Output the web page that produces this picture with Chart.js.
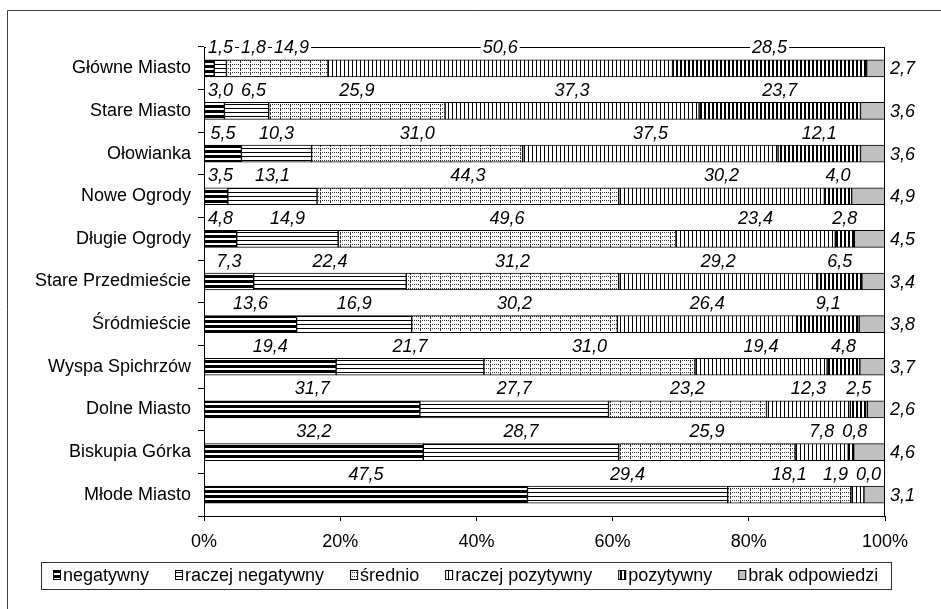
<!DOCTYPE html>
<html>
<head>
<meta charset="utf-8">
<script src="https://cdn.jsdelivr.net/npm/chart.js@4"></script>
<style>
  html, body { margin: 0; padding: 0; background: #fff; }
  canvas { display: block; }
</style>
</head>
<body>
<canvas id="chart" width="941" height="609"></canvas>
<script>
var districts = ['Główne Miasto', 'Stare Miasto', 'Ołowianka', 'Nowe Ogrody', 'Długie Ogrody',
    'Stare Przedmieście', 'Śródmieście', 'Wyspa Spichrzów', 'Dolne Miasto', 'Biskupia Górka', 'Młode Miasto'];
var seriesNames = ['negatywny', 'raczej negatywny', 'średnio', 'raczej pozytywny', 'pozytywny', 'brak odpowiedzi'];

var negatywny       = [1.5, 3.0, 5.5, 3.5, 4.8, 7.3, 13.6, 19.4, 31.7, 32.2, 47.5];
var raczejNegatywny = [1.8, 6.5, 10.3, 13.1, 14.9, 22.4, 16.9, 21.7, 27.7, 28.7, 29.4];
var srednio         = [14.9, 25.9, 31.0, 44.3, 49.6, 31.2, 30.2, 31.0, 23.2, 25.9, 18.1];
var raczejPozytywny = [50.6, 37.3, 37.5, 30.2, 23.4, 29.2, 26.4, 19.4, 12.3, 7.8, 1.9];
var pozytywny       = [28.5, 23.7, 12.1, 4.0, 2.8, 6.5, 9.1, 4.8, 2.5, 0.8, 0.0];
var brakOdpowiedzi  = [2.7, 3.6, 3.6, 4.9, 4.5, 3.4, 3.8, 3.7, 2.6, 4.6, 3.1];

var tickLabels = ['0%', '20%', '40%', '60%', '80%', '100%'];

Chart.defaults.font.family = '"Liberation Sans", Arial, sans-serif';
Chart.defaults.color = '#000';

var canvas = document.getElementById('chart');
var mainCtx = canvas.getContext('2d');

// small tiles for the Excel-like hatch fills
function makePattern(w, h, draw) {
    var c = document.createElement('canvas');
    c.width = w;
    c.height = h;
    var g = c.getContext('2d');
    g.fillStyle = '#fff';
    g.fillRect(0, 0, w, h);
    draw(g);
    return mainCtx.createPattern(c, 'repeat');
}

var patterns = [
    makePattern(1, 5, function (g) { g.fillStyle = '#000'; g.fillRect(0, 0, 1, 3); }),
    makePattern(1, 4, function (g) { g.fillStyle = '#000'; g.fillRect(0, 0, 1, 1); }),
    makePattern(10, 4, function (g) {
        g.fillStyle = '#333';
        for (var x = 0; x < 10; x += 2) g.fillRect(x, 0, 1, 1);
        g.fillRect(0, 1, 1, 2);
    }),
    makePattern(4, 1, function (g) { g.fillStyle = '#000'; g.fillRect(0, 0, 1, 1); }),
    makePattern(4, 1, function (g) { g.fillStyle = '#000'; g.fillRect(0, 0, 2, 1); }),
    '#c0c0c0'
];

var seriesData = [negatywny, raczejNegatywny, srednio, raczejPozytywny, pozytywny, brakOdpowiedzi];

var datasets = seriesNames.map(function (name, i) {
    return {
        label: name,
        data: seriesData[i],
        backgroundColor: patterns[i],
        borderColor: '#000',
        borderWidth: 1,
        borderSkipped: false,
        barThickness: 17
    };
});

function fmt(v) {
    return v.toFixed(1).replace('.', ',');
}

var decorPlugin = {
    id: 'decor',
    afterDatasetsDraw: function (chart) {
        var ctx = chart.ctx;
        var a = chart.chartArea;
        ctx.save();

        // plot area frame
        ctx.strokeStyle = '#000';
        ctx.lineWidth = 1;
        ctx.strokeRect(Math.round(a.left) + 0.5, Math.round(a.top) + 0.5,
            Math.round(a.right - a.left) - 1, Math.round(a.bottom - a.top));

        ctx.font = 'italic 18px "Liberation Sans", Arial, sans-serif';
        ctx.textBaseline = 'middle';
        ctx.textAlign = 'left';
        var gap = 8;
        var minLeft = a.left + 4;
        var maxRight = a.right - 4;

        districts.forEach(function (name, i) {
            var items = [];
            var barY = 0;
            for (var d = 0; d < 5; d++) {
                var bar = chart.getDatasetMeta(d).data[i];
                var text = fmt(seriesData[d][i]);
                var w = ctx.measureText(text).width;
                var cx = (bar.base + bar.x) / 2;
                items.push({ text: text, w: w, left: cx - w / 2 });
                barY = bar.y;
            }
            // push overlapping labels apart
            for (var k = 0; k < items.length; k++) {
                var lim = k === 0 ? minLeft : items[k - 1].left + items[k - 1].w + gap;
                if (items[k].left < lim) items[k].left = lim;
            }
            for (k = items.length - 1; k >= 0; k--) {
                var rlim = k === items.length - 1 ? maxRight : items[k + 1].left - gap;
                if (items[k].left + items[k].w > rlim) items[k].left = rlim - items[k].w;
            }
            var ly = barY - 21;
            items.forEach(function (it) {
                ctx.fillStyle = '#fff';
                ctx.fillRect(it.left - 2, ly - 8, it.w + 4, 16);
                ctx.fillStyle = '#000';
                ctx.fillText(it.text, it.left, ly + 1);
            });
            // no-answer value to the right of the plot
            var last = chart.getDatasetMeta(5).data[i];
            ctx.fillText(fmt(brakOdpowiedzi[i]), a.right + 5, last.y + 1);
        });
        ctx.restore();
    },
    afterDraw: function (chart) {
        var ctx = chart.ctx;
        ctx.save();
        // outer frame
        ctx.strokeStyle = '#404040';
        ctx.lineWidth = 1;
        ctx.beginPath();
        ctx.moveTo(7.5, 609);
        ctx.lineTo(7.5, 10.5);
        ctx.lineTo(941, 10.5);
        ctx.stroke();

        // legend, swatches taken from the dataset fills
        ctx.font = '18px "Liberation Sans", Arial, sans-serif';
        ctx.textBaseline = 'middle';
        ctx.textAlign = 'left';
        var swW = 8, swH = 10, swGap = 2, itemGap = 26;
        var ds = chart.data.datasets;
        var widths = ds.map(function (d) { return swW + swGap + ctx.measureText(d.label).width; });
        var total = widths.reduce(function (s, w) { return s + w; }, 0) + itemGap * (ds.length - 1);
        var cx = 465.5;
        var cy = chart.chartArea.bottom + 59;
        var x = Math.round(cx - total / 2);
        ctx.strokeStyle = '#333';
        ctx.strokeRect(x - 12 + 0.5, Math.round(cy - 13.5) + 0.5, Math.round(total + 25), 27);
        ds.forEach(function (d, i) {
            ctx.fillStyle = d.backgroundColor;
            ctx.fillRect(x, cy - swH / 2, swW, swH);
            ctx.strokeStyle = '#000';
            ctx.strokeRect(x + 0.5, cy - swH / 2 + 0.5, swW - 1, swH - 1);
            ctx.fillStyle = '#000';
            ctx.fillText(d.label, x + swW + swGap, cy + 1);
            x += widths[i] + itemGap;
        });
        ctx.restore();
    }
};

new Chart(canvas, {
    type: 'bar',
    data: { labels: districts, datasets: datasets },
    plugins: [decorPlugin],
    options: {
        indexAxis: 'y',
        responsive: false,
        animation: false,
        layout: { padding: { left: 0, right: 56, top: 47, bottom: 57 } },
        plugins: {
            legend: { display: false },
            tooltip: { enabled: false }
        },
        scales: {
            x: {
                stacked: true,
                min: 0,
                max: 100,
                ticks: {
                    stepSize: 20,
                    font: { size: 18 },
                    padding: 10,
                    callback: function (v, idx) { return tickLabels[idx]; }
                },
                grid: { drawOnChartArea: false, tickLength: 5, color: '#000' },
                border: { display: false },
                afterFit: function (s) { s.height = 36; }
            },
            y: {
                stacked: true,
                ticks: { font: { size: 18 }, padding: 7 },
                grid: { drawOnChartArea: false, tickLength: 6, color: '#000', offset: true },
                border: { display: false },
                afterFit: function (s) { s.width = 204; }
            }
        }
    }
});
</script>
</body>
</html>
